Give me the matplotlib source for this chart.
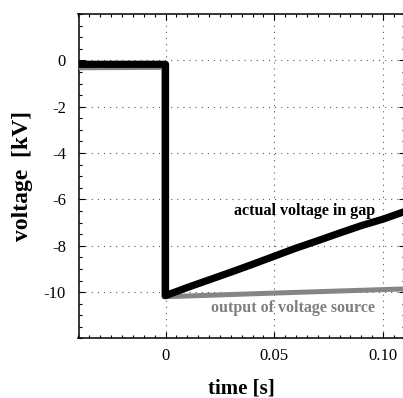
import numpy as np
import matplotlib
matplotlib.use("Agg")
import matplotlib.pyplot as plt
from matplotlib.ticker import MultipleLocator, FixedLocator

# 読み取った値
t_gap = [-0.04, 0.0, 0.0, 0.01, 0.02, 0.03, 0.04, 0.05, 0.06, 0.07, 0.08, 0.09, 0.10, 0.11]
v_gap = [-0.17, -0.17, -10.15, -9.8, -9.47, -9.14, -8.8, -8.45, -8.1, -7.78, -7.45, -7.13, -6.85, -6.52]
t_src = [-0.04, -0.0008, -0.0008, 0.05, 0.11]
v_src = [-0.32, -0.3, -10.2, -10.04, -9.86]

xticks = [0, 0.05, 0.10]
xticklabels = ["0", "0.05", "0.10"]
yticks = [0, -2, -4, -6, -8, -10]

plt.rcParams['font.family'] = ['Liberation Serif', 'DejaVu Serif']
plt.rcParams['axes.unicode_minus'] = False

fig = plt.figure(figsize=(4.03, 3.98), dpi=100)
ax = fig.add_axes([78.5/403, 0.1495, 326.3/403, 0.8153])

ax.plot(t_src, v_src, color='#858585', lw=3.6, solid_joinstyle='round', solid_capstyle='round', zorder=3)
ax.plot(t_gap, v_gap, color='black', lw=5.2, solid_joinstyle='round', solid_capstyle='butt', zorder=4)

ax.set_xlim(-0.04, 0.11)
ax.set_ylim(-12, 2)

ax.xaxis.set_major_locator(FixedLocator(xticks))
ax.set_xticklabels(xticklabels)
ax.xaxis.set_minor_locator(MultipleLocator(0.005))
ax.yaxis.set_major_locator(FixedLocator(yticks))
ax.yaxis.set_minor_locator(MultipleLocator(0.5))

ax.tick_params(which='both', direction='in', top=True, right=True, width=0.8)
ax.tick_params(which='major', length=4.3, labelsize=12, pad=7)
ax.tick_params(axis='y', which='major', pad=9)
ax.tick_params(which='minor', length=2.5)
for s in ax.spines.values():
    s.set_linewidth(1.1)

ax.grid(True, which='major', linestyle=(0, (1, 4.5)), color='0.35', lw=0.8)

ax.text(0.064, -6.49, "actual voltage in gap", fontsize=11.5, fontweight='bold',
        ha='center', va='center', color='black')
ax.text(0.0585, -10.67, "output of voltage source", fontsize=11.5, fontweight='bold',
        ha='center', va='center', color='#7f7f7f')

ax.set_xlabel("time [s]", fontsize=15, fontweight='bold', labelpad=10)
ax.set_ylabel("voltage  [kV]", fontsize=17, fontweight='bold', labelpad=8)

fig.savefig("out.png", dpi=100)
